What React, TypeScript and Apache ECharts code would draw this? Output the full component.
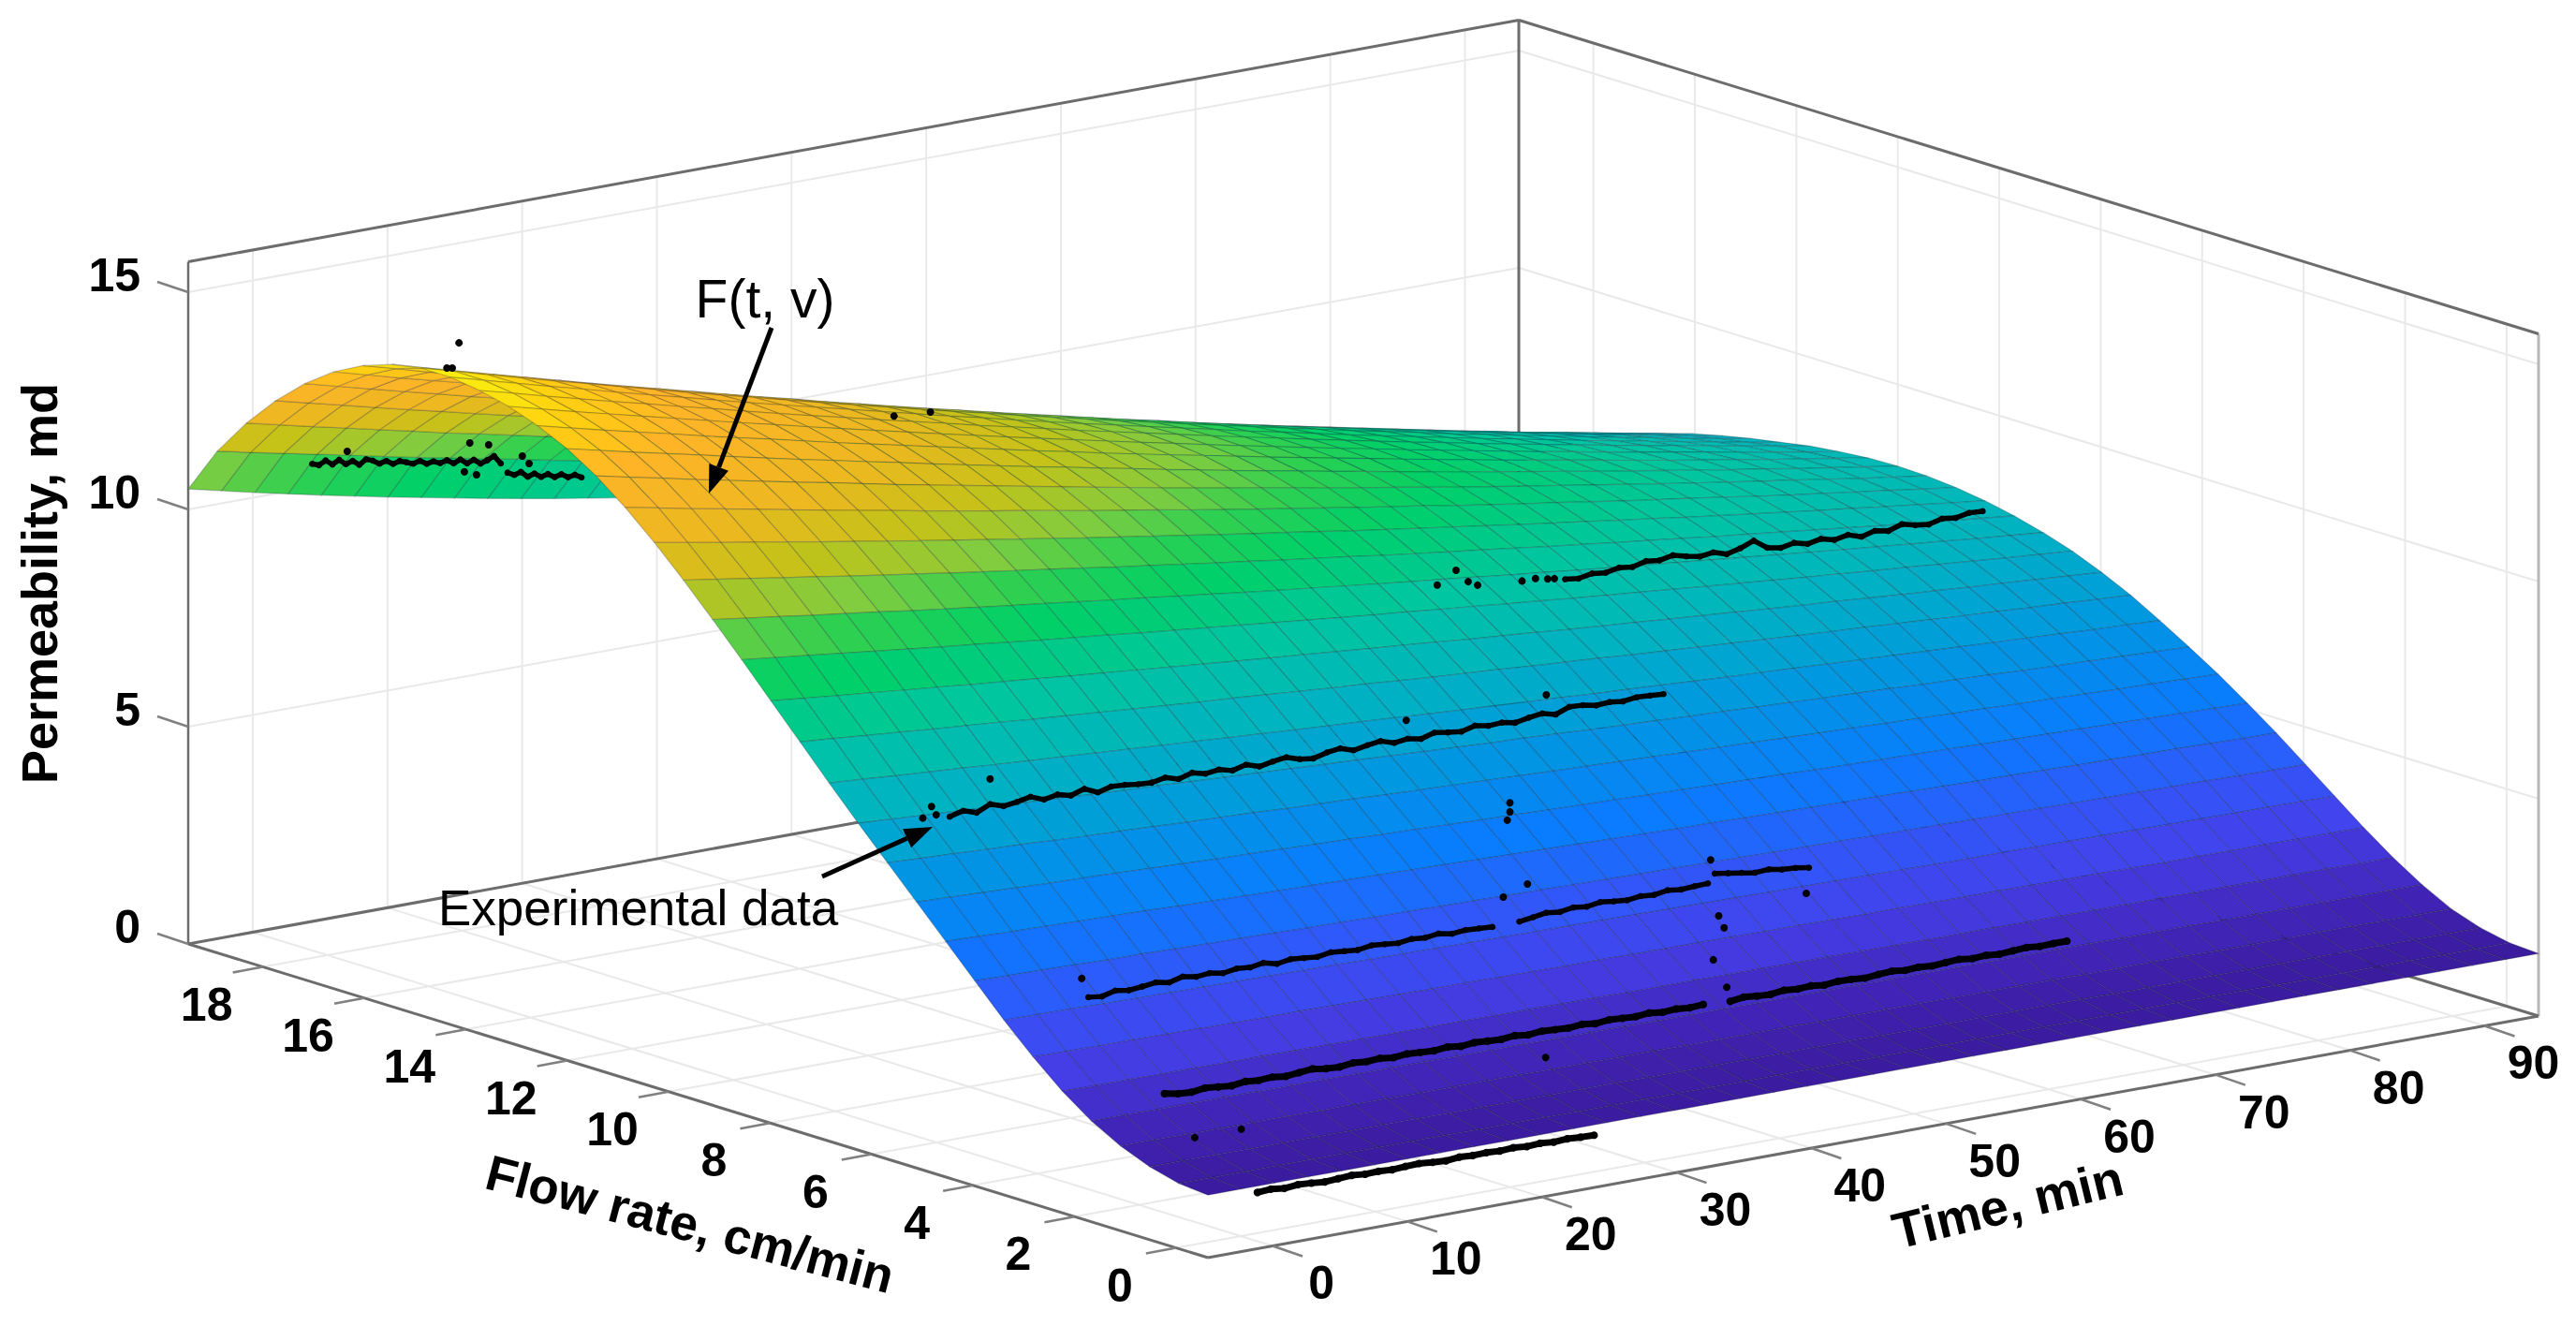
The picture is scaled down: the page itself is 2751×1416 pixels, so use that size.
import React, { useEffect, useRef } from "react";
import * as echarts from "echarts";

const W = 2751;
const H = 1416;

// Axis ranges
const timeRange = [-4.8, 94];
const flowRange = [-0.63, 19.47];
const timeTicks = [0, 10, 20, 30, 40, 50, 60, 70, 80, 90];
const flowTicks = [0, 2, 4, 6, 8, 10, 12, 14, 16, 18];
const permTicks = [0, 5, 10, 15];
const permTop = 15.7;

// F(t, v), hundredths of md; rows from the lowest flow rate to the highest, columns across time
const surfaceRows: number[][] = [
[144,144,144,144,144,144,144,144,144,144,144,144,144,144,144,144,144,144,144,144,144,144,144,144,144,144,144,144,144,144,144,144,144,144,144,144,144,144,144,144,144],
[150,150,150,150,150,150,150,150,150,149,149,149,149,149,149,149,149,149,149,149,149,149,149,149,149,149,149,149,149,149,149,149,149,148,148,148,148,148,148,148,148],
[168,168,168,167,167,167,167,167,167,166,166,166,166,166,166,165,165,165,165,165,165,165,164,164,164,164,164,164,164,163,163,163,163,163,163,163,163,162,162,162,162],
[195,195,194,194,194,194,193,193,193,192,192,192,192,191,191,191,191,190,190,190,190,189,189,189,189,188,188,188,188,187,187,187,187,186,186,186,186,186,185,185,185],
[232,232,231,231,231,230,230,230,229,229,229,228,228,228,227,227,227,226,226,226,225,225,225,225,224,224,224,223,223,223,223,222,222,222,221,221,221,221,220,220,220],
[280,279,279,278,278,277,277,276,276,275,275,274,274,273,273,272,272,271,271,271,270,270,269,269,268,268,267,267,267,266,266,265,265,265,264,264,263,263,263,262,262],
[338,337,336,336,335,334,333,332,332,331,330,329,328,328,327,326,325,325,324,323,323,322,321,321,320,319,319,318,317,317,316,315,315,314,313,313,312,312,311,311,310],
[402,401,400,398,397,396,395,394,393,392,391,389,388,387,386,385,384,383,382,381,380,379,378,377,376,375,374,373,372,371,371,370,369,368,367,366,365,364,364,363,362],
[472,470,469,467,465,464,462,460,459,457,455,454,452,451,449,448,446,445,443,442,440,439,437,436,434,433,432,430,429,428,426,425,424,422,421,420,419,418,416,415,414],
[542,540,537,535,533,531,529,526,524,522,520,518,516,514,512,510,508,506,504,502,500,498,496,495,493,491,489,487,486,484,482,480,479,477,475,474,472,471,469,467,466],
[612,609,606,603,600,598,595,592,589,586,584,581,578,576,573,571,568,565,563,560,558,556,553,551,548,546,544,541,539,537,535,533,530,528,526,524,522,520,518,516,514],
[682,678,675,671,668,664,660,657,654,650,647,644,640,637,634,630,627,624,621,618,615,612,609,606,603,600,597,594,591,589,586,583,580,578,575,573,570,567,565,562,560],
[752,748,743,739,734,730,726,721,717,713,709,705,701,697,693,689,685,681,677,673,670,666,662,658,655,651,648,644,641,637,634,631,627,624,621,617,614,611,608,605,602],
[824,819,813,808,803,797,792,787,782,777,772,767,762,757,752,747,743,738,733,728,724,719,715,710,706,702,697,693,689,685,681,677,673,669,665,661,657,653,649,646,642],
[898,892,885,879,872,866,860,853,847,841,835,829,823,818,812,806,800,795,789,783,778,773,767,762,757,751,746,741,736,731,726,721,717,712,707,702,698,693,689,684,680],
[972,964,956,949,941,934,926,919,912,904,897,890,883,876,869,862,856,849,842,836,829,822,816,810,803,797,791,785,779,773,767,761,756,750,744,739,733,728,723,717,712],
[1046,1037,1028,1019,1010,1001,992,984,975,966,958,950,941,933,925,917,909,901,893,885,878,870,863,855,848,840,833,826,819,812,805,798,791,785,778,772,765,759,752,746,740],
[1118,1107,1097,1086,1076,1066,1055,1045,1035,1025,1016,1006,996,987,977,968,958,949,940,931,922,913,905,896,887,879,870,862,854,846,838,830,822,814,806,799,791,784,776,769,762],
[1188,1176,1164,1152,1140,1128,1116,1105,1093,1082,1071,1060,1049,1037,1027,1016,1005,995,984,974,964,953,943,933,924,914,904,895,885,876,867,857,849,840,831,822,813,805,796,788,780],
[1254,1240,1226,1213,1200,1186,1173,1160,1147,1134,1122,1109,1097,1084,1072,1060,1048,1036,1024,1013,1001,989,978,967,956,945,934,923,913,902,892,881,871,861,851,841,832,822,813,803,794],
[1314,1299,1283,1269,1254,1239,1224,1210,1196,1181,1167,1153,1140,1126,1112,1099,1086,1072,1059,1046,1034,1021,1008,996,984,971,959,947,936,924,912,901,890,879,867,856,846,835,825,814,804],
[1366,1349,1333,1316,1300,1284,1268,1253,1237,1221,1206,1191,1176,1161,1146,1131,1117,1102,1088,1074,1060,1046,1033,1019,1006,992,979,966,953,941,928,916,903,891,879,867,856,844,832,821,810],
[1408,1390,1372,1355,1338,1320,1303,1286,1270,1253,1237,1220,1204,1188,1172,1157,1141,1126,1110,1095,1080,1065,1051,1036,1022,1007,993,979,966,952,939,925,912,899,886,873,861,848,836,824,812],
[1440,1421,1402,1384,1366,1347,1329,1312,1294,1276,1259,1242,1225,1208,1191,1174,1158,1141,1125,1109,1094,1078,1062,1047,1032,1017,1002,987,973,958,944,930,916,902,888,875,862,848,836,823,810],
[1464,1444,1424,1405,1386,1367,1348,1329,1311,1292,1274,1256,1238,1220,1203,1185,1168,1151,1134,1117,1101,1084,1068,1052,1036,1020,1005,989,974,959,944,929,915,900,886,872,858,844,831,817,804],
[1480,1460,1439,1419,1399,1380,1360,1341,1321,1302,1283,1265,1246,1228,1210,1191,1174,1156,1138,1121,1104,1087,1070,1053,1037,1020,1004,988,972,957,941,926,911,896,881,867,852,838,824,810,796],
[1490,1469,1448,1427,1407,1386,1366,1346,1326,1306,1287,1268,1249,1230,1211,1192,1174,1155,1137,1119,1102,1084,1067,1050,1032,1016,999,982,966,950,934,918,903,887,872,857,842,827,813,798,784],
[1490,1469,1447,1426,1405,1385,1364,1344,1323,1303,1284,1264,1244,1225,1206,1187,1168,1150,1131,1113,1095,1077,1060,1042,1025,1008,991,974,957,941,925,908,893,877,861,846,831,816,801,786,772],
[1478,1456,1435,1414,1393,1372,1351,1331,1311,1291,1271,1251,1232,1212,1193,1174,1155,1137,1118,1100,1082,1064,1046,1029,1011,994,977,960,944,927,911,895,879,863,848,832,817,802,787,772,758],
[1455,1434,1412,1392,1371,1350,1330,1310,1290,1270,1250,1230,1211,1192,1173,1154,1136,1117,1099,1081,1063,1045,1028,1010,993,976,959,942,926,910,894,878,862,846,831,815,801,786,771,756,742],
[1420,1399,1378,1358,1338,1317,1297,1278,1258,1238,1219,1200,1181,1162,1144,1125,1107,1089,1071,1053,1036,1019,1001,984,968,951,934,918,902,886,870,855,839,824,809,794,779,765,750,736,722],
[1372,1352,1332,1312,1293,1273,1254,1235,1216,1197,1179,1160,1142,1124,1106,1088,1071,1053,1036,1019,1002,986,969,953,936,920,905,889,873,858,843,828,813,798,784,769,755,741,727,713,700],
[1312,1293,1274,1255,1236,1218,1199,1181,1164,1146,1128,1110,1093,1076,1059,1042,1025,1009,992,976,960,944,928,913,897,882,867,852,837,822,808,794,780,765,752,738,724,711,698,685,672],
[1240,1222,1204,1187,1169,1152,1134,1118,1101,1084,1068,1051,1035,1019,1003,987,971,956,940,925,910,895,880,866,851,837,823,809,795,781,768,754,741,728,715,702,689,677,664,652,640],
[1155,1138,1122,1106,1090,1073,1057,1042,1026,1011,995,980,965,950,935,921,906,892,878,864,850,836,822,809,795,782,769,756,743,730,718,705,693,681,669,657,646,634,622,611,600],
[1047,1029,1011,994,977,961,945,930,915,900,886,872,859,846,833,821,810,799,789,779,770,761,749,737,725,713,701,690,678,667,656,644,634,623,612,601,591,580,570,560,550],
];

// Colour of the surface against permeability
const colorK = [1.4, 2.2, 3.2, 4.2, 5.3, 6.6, 7.8, 8.9, 9.9, 10.5, 11.0, 11.7, 12.5, 13.6, 14.3, 14.9];
const colorHex = ["#3a1a9c", "#4226bc", "#4540ea", "#3058fa", "#0a7cff", "#0098e0", "#00b4c0", "#00c6a0", "#00d068", "#30d050", "#80cc40", "#c4c218", "#ecb820", "#ffb428", "#ffd010", "#f8f010"];

// Experimental data: runs of permeability at a steady step in time
const runFlow = [0.2, 1.5, 1.5, 3, 3, 3, 6, 9, 18.3, 18.3];
const runStart = [2, 0, 42, 0, 32, 46.5, 1, 58, 0, 14.5];
const runStep = [1, 1, 1, 1, 1, 1, 1, 1, 0.5, 0.5];
const runPerm: number[][] = [
[.82,.84,.8,.83,.81,.78,.8,.82,.79,.8,.78,.8,.81,.78,.76,.79,.77,.78,.76,.78,.75,.77,.74,.76,.74,.73],
[2.74,2.68,2.66,2.7,2.67,2.64,2.68,2.65,2.67,2.63,2.66,2.69,2.64,2.62,2.66,2.63,2.65,2.61,2.64,2.62,2.6,2.63,2.59,2.62,2.6,2.58,2.61,2.57,2.6,2.58,2.56,2.59,2.55,2.58,2.56,2.54,2.57,2.53,2.55,2.52,2.54],
[2.5,2.54,2.51,2.49,2.53,2.5,2.52,2.48,2.51,2.5,2.47,2.5,2.52,2.48,2.5,2.47,2.49,2.51,2.47,2.49,2.46,2.48,2.5,2.47,2.48,2.48],
[4.42,4.38,4.46,4.41,4.44,4.48,4.42,4.5,4.44,4.47,4.41,4.46,4.43,4.48,4.4,4.45,4.42,4.39,4.44,4.41,4.38,4.43,4.4,4.37,4.41,4.38,4.42,4.36,4.39,4.37,4.35],
[4.36,4.4,4.45,4.41,4.46,4.42,4.47,4.43,4.4,4.44,4.41,4.46,4.42,4.44,4.45],
[4.65,4.6,4.55,4.5,4.52,4.46,4.44,4.39],
[7.44,7.52,7.42,7.56,7.46,7.5,7.56,7.44,7.5,7.42,7.52,7.38,7.46,7.44,7.4,7.38,7.44,7.35,7.44,7.36,7.4,7.32,7.4,7.3,7.36,7.4,7.3,7.26,7.34,7.38,7.28,7.34,7.38,7.28,7.32,7.26,7.35,7.3,7.26,7.34,7.28,7.3,7.24,7.3,7.34,7.26,7.38,7.36,7.3,7.32,7.28,7.32,7.3,7.28],
[8.62,8.58,8.64,8.6,8.66,8.62,8.7,8.66,8.72,8.64,8.58,8.62,8.52,8.6,8.72,8.5,8.44,8.5,8.42,8.48,8.4,8.46,8.36,8.44,8.38,8.48,8.4,8.36,8.44,8.4,8.46,8.44],
[11.2,11.14,11.22,11.1,11.18,11.05,11.1,10.98,11.08,11.02,10.92,10.96,10.86,10.9,10.84,10.78,10.82,10.72,10.75,10.68,10.72,10.62,10.68,10.56,10.62,10.5,10.55,10.62,10.42],
[10.18,10.1,10.14,10.0,10.05,9.94,9.98,9.88,9.92,9.82,9.85,9.76],
];

// Scattered experimental points
const looseTime = [-0.5,30.8,32.6,46.2,46.8,47.2,46.4,47.4,53.3,28.3,2.25,5.7,42.6,42.6,42.4,4,45.3,34.9,48.5,49.9,50.8,51.5,54.8,55.8,56.7,57.2,10.9,10.4,10,2.6,11.7,13.1,15.6,16.1,11.3,12.2,45.9,43.2,-1,-0.35,0];
const looseFlow = [3,3,3,3,3,3,3,3,3,1.5,1.5,1.5,6,6,6,6,6,6,9,9,9,9,9,9,9,9,18.3,18.3,18.3,18.3,18.3,18.3,18.3,18.3,18.3,18.3,18.3,18.3,6,6,6];
const loosePerm = [4.88,4.99,5.19,4.98,3.66,3.36,2.67,1.98,3.81,1.98,1.6,1.6,5.42,5.21,5.03,8.14,7.75,7.75,9.02,9.28,8.97,8.85,8.76,8.76,8.7,8.68,13.37,12.82,12.84,11.34,11.02,10.9,10.5,10.3,10.38,10.26,9.81,9.87,7.52,7.75,7.54];

const nRows = surfaceRows.length;
const nCols = surfaceRows[0].length;

// Orthographic projection of the box onto the page
function project(t: number, v: number, k: number): number[] {
  const tn = (t - timeRange[0]) / (timeRange[1] - timeRange[0]);
  const vn = (v - flowRange[0]) / (flowRange[1] - flowRange[0]);
  return [1290 + 1421 * tn - 1089 * vn, 1343 - 258 * tn - 335 * vn - 46.4 * k];
}
const nodeTime = (j: number) => timeRange[0] + ((timeRange[1] - timeRange[0]) * j) / (nCols - 1);
const nodeFlow = (i: number) => flowRange[0] + ((flowRange[1] - flowRange[0]) * i) / (nRows - 1);

function hexRgb(h: string) {
  return [parseInt(h.slice(1, 3), 16), parseInt(h.slice(3, 5), 16), parseInt(h.slice(5, 7), 16)];
}
function colorOf(k: number) {
  if (k <= colorK[0]) return colorHex[0];
  for (let n = 1; n < colorK.length; n++) {
    if (k <= colorK[n]) {
      const f = (k - colorK[n - 1]) / (colorK[n] - colorK[n - 1]);
      const a = hexRgb(colorHex[n - 1]);
      const b = hexRgb(colorHex[n]);
      return `rgb(${a.map((c, m) => Math.round(c + (b[m] - c) * f)).join(",")})`;
    }
  }
  return colorHex[colorHex.length - 1];
}

const FONT = "Liberation Sans";

export default function App() {
  const ref = useRef<HTMLDivElement>(null);
  useEffect(() => {
    const chart = echarts.init(ref.current!, undefined, { renderer: "svg" });

    const base = { type: "custom", coordinateSystem: "cartesian2d", silent: true, clip: false, progressive: 0, animation: false };

    const boxSeries = {
      ...base,
      data: [[0, 0]],
      renderItem: (_: any, api: any) => {
        const P = (t: number, v: number, k: number) => api.coord(project(t, v, k));
        const kids: any[] = [];
        const seg = (a: number[], b: number[], stroke: string, lineWidth: number) =>
          kids.push({ type: "line", shape: { x1: a[0], y1: a[1], x2: b[0], y2: b[1] }, style: { stroke, lineWidth } });
        const [t0, t1] = timeRange;
        const [v0, v1] = flowRange;
        const GRID = "#e9e9e9";
        const DARK = "#6c6c6c";
        for (const t of timeTicks) {
          seg(P(t, v0, 0), P(t, v1, 0), GRID, 2);
          seg(P(t, v1, 0), P(t, v1, permTop), GRID, 2);
        }
        for (const v of flowTicks) {
          seg(P(t0, v, 0), P(t1, v, 0), GRID, 2);
          seg(P(t1, v, 0), P(t1, v, permTop), GRID, 2);
        }
        for (const k of permTicks) {
          seg(P(t0, v1, k), P(t1, v1, k), GRID, 2);
          seg(P(t1, v1, k), P(t1, v0, k), GRID, 2);
        }
        seg(P(t0, v1, 0), P(t0, v1, permTop), DARK, 2.5);
        seg(P(t1, v1, 0), P(t1, v1, permTop), DARK, 3);
        seg(P(t1, v0, 0), P(t1, v0, permTop), "#b8b8b8", 3);
        seg(P(t0, v1, permTop), P(t1, v1, permTop), DARK, 3);
        seg(P(t1, v1, permTop), P(t1, v0, permTop), DARK, 3);
        seg(P(t0, v1, 0), P(t1, v1, 0), DARK, 3);
        seg(P(t1, v1, 0), P(t1, v0, 0), DARK, 3);
        seg(P(t0, v1, 0), P(t0, v0, 0), DARK, 3);
        seg(P(t0, v0, 0), P(t1, v0, 0), DARK, 3);
        for (const k of permTicks) {
          const a = P(t0, v1, k);
          seg(a, [a[0] - 33, a[1] - 11], "#808080", 2.5);
        }
        for (const t of timeTicks) {
          const a = P(t, v0, 0);
          seg(a, [a[0] + 32, a[1] + 11], "#808080", 2.5);
        }
        for (const v of flowTicks) {
          const a = P(t0, v, 0);
          seg(a, [a[0] - 32, a[1] + 6], "#808080", 2.5);
        }
        return { type: "group", children: kids };
      },
    };

    const cells: number[][] = [];
    for (let i = nRows - 2; i >= 0; i--) for (let j = nCols - 2; j >= 0; j--) cells.push([i, j]);
    const surfaceSeries = {
      ...base,
      name: "F(t, v)",
      data: cells,
      renderItem: (params: any, api: any) => {
        const [i, j] = cells[params.dataIndex];
        const corners = [
          [i, j],
          [i, j + 1],
          [i + 1, j + 1],
          [i + 1, j],
        ];
        const points = corners.map(([a, b]) => api.coord(project(nodeTime(b), nodeFlow(a), surfaceRows[a][b] / 100)));
        const mean = corners.reduce((s, [a, b]) => s + surfaceRows[a][b], 0) / 400;
        return {
          type: "polygon",
          shape: { points },
          style: { fill: colorOf(mean), stroke: "rgba(20,30,40,0.24)", lineWidth: 1.2 },
        };
      },
    };

    const runSeries = {
      ...base,
      name: "Experimental data",
      data: runPerm.map((_, n) => [n, 0]),
      renderItem: (params: any, api: any) => {
        const n = params.dataIndex;
        const pts = runPerm[n].map((k, m) => api.coord(project(runStart[n] + m * runStep[n], runFlow[n], k)));
        const thick = runFlow[n] < 2 ? 7 : 5.5;
        const kids: any[] = [{ type: "polyline", shape: { points: pts }, style: { stroke: "#000", lineWidth: thick, lineJoin: "round", lineCap: "round", fill: "none" } }];
        for (const p of pts) kids.push({ type: "circle", shape: { cx: p[0], cy: p[1], r: thick / 2 + 0.6 }, style: { fill: "#000" } });
        return { type: "group", children: kids };
      },
    };

    const looseSeries = {
      ...base,
      data: loosePerm.map((_, n) => [n, 0]),
      renderItem: (params: any, api: any) => {
        const n = params.dataIndex;
        const p = api.coord(project(looseTime[n], looseFlow[n], loosePerm[n]));
        return { type: "circle", shape: { cx: p[0], cy: p[1], r: 4 }, style: { fill: "#000" } };
      },
    };

    const textSeries = {
      ...base,
      data: [[0, 0]],
      renderItem: (_: any, api: any) => {
        const kids: any[] = [];
        const label = (s: string, p: number[], size: number, weight: string, align = "center", rotation = 0) =>
          kids.push({
            type: "text",
            x: p[0],
            y: p[1],
            rotation,
            style: { text: s, x: 0, y: 0, fontFamily: FONT, fontSize: size, fontWeight: weight, fill: "#000", align, verticalAlign: "middle" },
          });
        const [t0] = timeRange;
        const [v0, v1] = flowRange;
        for (const k of permTicks) {
          const a = api.coord(project(t0, v1, k));
          label(String(k), [150, a[1] - 18], 50, "bold", "right");
        }
        for (const t of timeTicks) {
          const a = api.coord(project(t, v0, 0));
          label(String(t), [a[0] + 52, a[1] + 40], 50, "bold");
        }
        for (const v of flowTicks) {
          const a = api.coord(project(t0, v, 0));
          label(String(v), [a[0] - 60, a[1] + 40], 50, "bold");
        }
        label("Permeability, md", [42, 623], 54, "bold", "center", Math.PI / 2);
        label("Flow rate, cm/min", [737, 1307], 53, "bold", "center", (-14.6 * Math.PI) / 180);
        label("Time, min", [2144, 1286], 54, "bold", "center", (13.6 * Math.PI) / 180);
        label("F(t, v)", [817, 319], 57, "normal");
        label("Experimental data", [468, 969], 53, "normal", "left");
        const arrow = (from: number[], to: number[]) => {
          const a = api.coord(from);
          const b = api.coord(to);
          const ang = Math.atan2(b[1] - a[1], b[0] - a[0]);
          const L = 30;
          const W2 = 11;
          const bx = b[0] - L * Math.cos(ang);
          const by = b[1] - L * Math.sin(ang);
          kids.push({ type: "line", shape: { x1: a[0], y1: a[1], x2: bx, y2: by }, style: { stroke: "#000", lineWidth: 5 } });
          kids.push({
            type: "polygon",
            shape: {
              points: [
                b,
                [bx - W2 * Math.sin(ang), by + W2 * Math.cos(ang)],
                [bx + W2 * Math.sin(ang), by - W2 * Math.cos(ang)],
              ],
            },
            style: { fill: "#000" },
          });
        };
        arrow([824, 350], [757, 527]);
        arrow([878, 936], [996, 883]);
        return { type: "group", children: kids };
      },
    };

    chart.setOption({
      animation: false,
      backgroundColor: "#fff",
      grid: { left: 0, right: 0, top: 0, bottom: 0 },
      xAxis: { type: "value", min: 0, max: W, show: false },
      yAxis: { type: "value", min: 0, max: H, inverse: true, show: false },
      series: [boxSeries, surfaceSeries, runSeries, looseSeries, textSeries],
    });
    return () => chart.dispose();
  }, []);
  return <div ref={ref} style={{ position: "absolute", left: 0, top: 0, width: W, height: H }} />;
}
